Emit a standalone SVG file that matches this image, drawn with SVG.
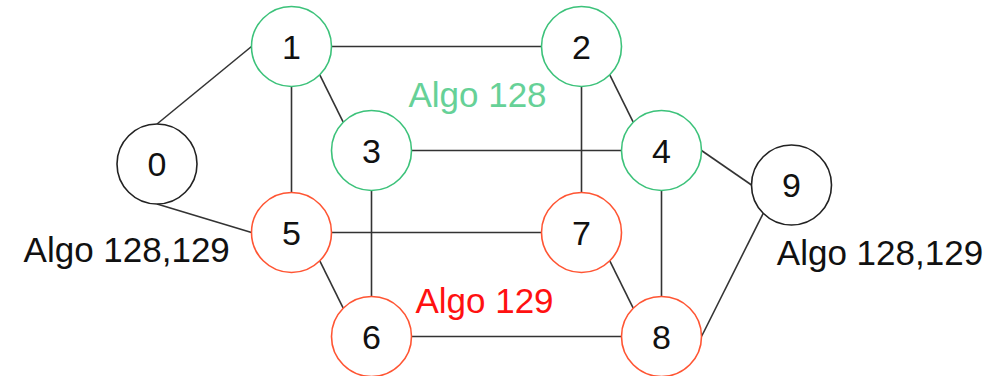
<svg xmlns="http://www.w3.org/2000/svg" width="996" height="376" viewBox="0 0 996 376">
<style>
.n{fill:#fff;stroke-width:1.6}
.k{stroke:#222}
.g{stroke:#3cc27a}
.r{stroke:#ff5533}
.t{font-family:"Liberation Sans",Arial,sans-serif;font-size:34px;fill:#111;text-anchor:middle}
.l{font-family:"Liberation Sans",Arial,sans-serif;font-size:35px;text-anchor:middle}
#edges line{stroke:#333;stroke-width:1.6}
</style>
<rect width="996" height="376" fill="#fff"/>
<g id="edges">
<line x1="157" y1="124" x2="251.5" y2="46.5"/>
<line x1="157" y1="204" x2="251.5" y2="232.5"/>
<line x1="331.5" y1="46.5" x2="541.5" y2="46.5"/>
<line x1="319.8" y1="74.8" x2="343.2" y2="122.2"/>
<line x1="291.5" y1="86.5" x2="291.5" y2="192.5"/>
<line x1="411.5" y1="150.5" x2="621.5" y2="150.5"/>
<line x1="371.5" y1="190.5" x2="371.5" y2="296.5"/>
<line x1="609.8" y1="74.8" x2="633.2" y2="122.2"/>
<line x1="581.5" y1="86.5" x2="581.5" y2="192.5"/>
<line x1="701.5" y1="150.5" x2="751.5" y2="185"/>
<line x1="661.5" y1="190.5" x2="661.5" y2="296.5"/>
<line x1="763.2" y1="213.3" x2="701.5" y2="336.5"/>
<line x1="331.5" y1="232.5" x2="541.5" y2="232.5"/>
<line x1="319.8" y1="260.8" x2="343.2" y2="308.2"/>
<line x1="411.5" y1="336.5" x2="621.5" y2="336.5"/>
<line x1="609.8" y1="260.8" x2="633.2" y2="308.2"/>
</g>
<g id="node0"><circle class="n k" cx="157" cy="164" r="40"/><text class="t" x="157" y="176">0</text></g>
<g id="node1"><circle class="n g" cx="291.5" cy="46.5" r="40"/><text class="t" x="291.5" y="58.5">1</text></g>
<g id="node2"><circle class="n g" cx="581.5" cy="46.5" r="40"/><text class="t" x="581.5" y="58.5">2</text></g>
<g id="node3"><circle class="n g" cx="371.5" cy="150.5" r="40"/><text class="t" x="371.5" y="162.5">3</text></g>
<g id="node4"><circle class="n g" cx="661.5" cy="150.5" r="40"/><text class="t" x="661.5" y="162.5">4</text></g>
<g id="node5"><circle class="n r" cx="291.5" cy="232.5" r="40"/><text class="t" x="291.5" y="244.5">5</text></g>
<g id="node6"><circle class="n r" cx="371.5" cy="336.5" r="40"/><text class="t" x="371.5" y="348.5">6</text></g>
<g id="node7"><circle class="n r" cx="581.5" cy="232.5" r="40"/><text class="t" x="581.5" y="244.5">7</text></g>
<g id="node8"><circle class="n r" cx="661.5" cy="336.5" r="40"/><text class="t" x="661.5" y="348.5">8</text></g>
<g id="node9"><circle class="n k" cx="791.5" cy="185" r="40"/><text class="t" x="791.5" y="197">9</text></g>
<g id="labels">
<text class="l" x="477.5" y="106.5" fill="#66d197">Algo 128</text>
<text class="l" x="484.5" y="313" fill="#ff1111">Algo 129</text>
<text class="l" x="126.7" y="261.5" fill="#111">Algo 128,129</text>
<text class="l" x="880" y="265" fill="#111">Algo 128,129</text>
</g>
</svg>
